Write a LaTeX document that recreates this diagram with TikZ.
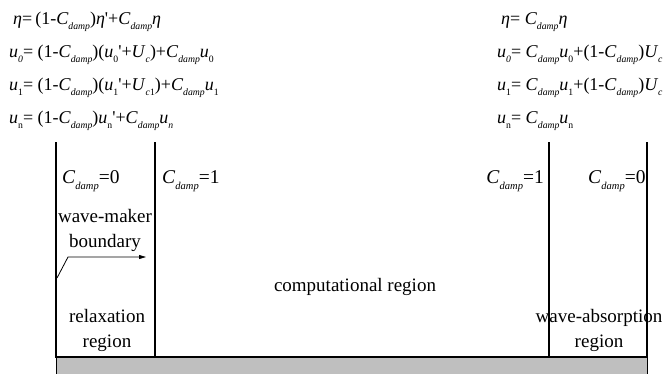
\documentclass[tikz,border=0pt]{standalone}
\usepackage{fontspec}
\setmainfont{Liberation Serif}
\usetikzlibrary{arrows.meta, positioning}
\tikzstyle{eqn} = [anchor=base west, inner sep=0pt, font=\fontsize{18}{22}\selectfont]
\tikzstyle{damplabel} = [anchor=base west, inner sep=0pt, font=\fontsize{19.5}{25}\selectfont]
\tikzstyle{regionlabel} = [anchor=base, inner sep=0pt, align=center, font=\fontsize{19}{25}\selectfont]
\tikzstyle{wall} = [line width=2.4pt]
\tikzstyle{arrow} = [line width=0.8pt, -{Triangle[length=7pt, width=4pt]}]
\makeatletter
\newcommand{\lowsub}[1]{\raisebox{-0.32em}{\fontsize{\fpeval{0.54*\f@size}}{\fpeval{0.7*\f@size}}\selectfont #1}}
\makeatother
\newcommand{\Cdamp}{\textit{C}\lowsub{\textit{damp}}}
\newcommand{\etav}{\textit{η}}
\newcommand{\qs}{\textquotesingle}

\begin{document}
\begin{tikzpicture}[x=1pt, y=-1pt]
\useasboundingbox (0,0) rectangle (663,373);
% Equations
\node (eqleftA) [eqn] at (13,24) {\etav=\,(1-\Cdamp)\etav\qs+\Cdamp\etav};
\node (eqleftB) [eqn] at (9,57) {\textit{u}\lowsub{\textit{0}}= (1-\Cdamp)(\textit{u}\lowsub{0}\qs+\textit{U}\lowsub{\textit{c}})+\Cdamp\textit{u}\lowsub{0}};
\node (eqleftC) [eqn] at (9,90) {\textit{u}\lowsub{1}= (1-\Cdamp)(\textit{u}\lowsub{1}\qs+\textit{U}\lowsub{\textit{c}1})+\Cdamp\textit{u}\lowsub{1}};
\node (eqleftD) [eqn] at (9,123) {\textit{u}\lowsub{n}= (1-\Cdamp)\textit{u}\lowsub{n}\qs+\Cdamp\textit{u}\lowsub{\textit{n}}};

\node (eqrightA) [eqn] at (501,24) {\etav= \Cdamp\etav};
\node (eqrightB) [eqn] at (497,57) {\textit{u}\lowsub{\textit{0}}= \Cdamp\textit{u}\lowsub{0}+(1-\Cdamp)\textit{U}\lowsub{\textit{c}}};
\node (eqrightC) [eqn] at (497,90) {\textit{u}\lowsub{1}= \Cdamp\textit{u}\lowsub{1}+(1-\Cdamp)\textit{U}\lowsub{\textit{c}}};
\node (eqrightD) [eqn] at (497,123) {\textit{u}\lowsub{n}= \Cdamp\textit{u}\lowsub{n}};

% Walls and bottom
\fill [black!25] (56,357) rectangle (647,376);
\draw [line width=0.6pt] (56,357) -- (56,376) (647,357) -- (647,376);
\draw [wall] (56,142) -- (56,357) -- (647,357) -- (647,142);
\draw [wall] (155,142) -- (155,357);
\draw [wall] (549,142) -- (549,357);

% Labels
\node (dampA) [damplabel] at (62,183) {\Cdamp=0};
\node (dampB) [damplabel] at (162,183) {\Cdamp=1};
\node (dampC) [damplabel, anchor=base east] at (544,183) {\Cdamp=1};
\node (dampD) [damplabel] at (588,183) {\Cdamp=0};

\node (maker) [regionlabel] at (105,247) {wave-maker\\boundary};
\node (relax) [regionlabel] at (107,347) {relaxation\\region};
\node (comp) [regionlabel] at (355,291) {computational region};
\node (absorb) [regionlabel] at (599,347) {wave-absorption\\region};

% Connections
\coordinate (makerfoot) at (57,278);
\coordinate (makerbend) at (68,257);
\coordinate (makertip) at (146,257);
\draw [arrow] (makerfoot) -- (makerbend) -- (makertip);

\end{tikzpicture}
\end{document}
